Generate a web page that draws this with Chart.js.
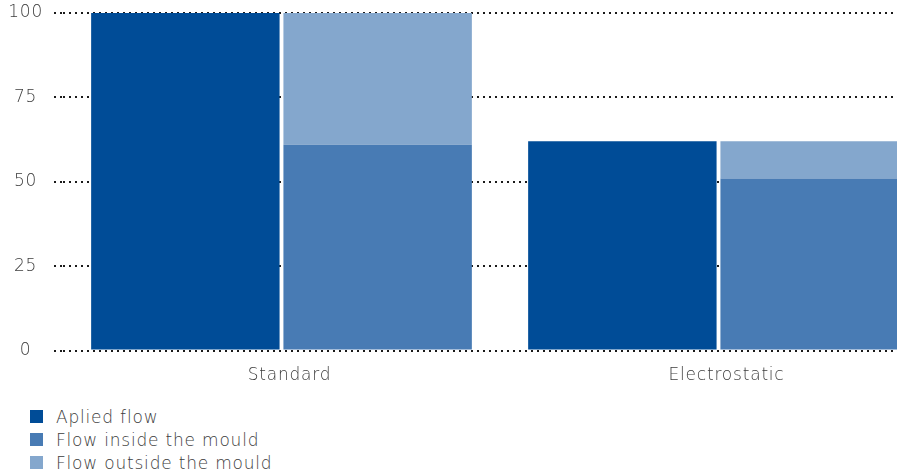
<!DOCTYPE html>
<html>
<head>
<meta charset="utf-8">
<script src="https://cdn.jsdelivr.net/npm/chart.js@4/dist/chart.umd.min.js"></script>
<style>
    body { margin: 0; background: #fff; font-family: "DejaVu Sans", sans-serif; }
    #wrap { position: relative; width: 897px; height: 473px; overflow: hidden; }
    #grafico { position: absolute; left: 0; top: 0; }
    #legenda { position: absolute; left: 30px; top: 405px; margin: 0; padding: 0; list-style: none;
               font-size: 17px; font-weight: 300; letter-spacing: 0.8px; color: #3c3c3c; }
    #legenda li { height: 23px; display: flex; align-items: center; white-space: nowrap; }
    #legenda .caixa { display: inline-block; width: 13px; height: 13px; margin-right: 13px; }
</style>
</head>
<body>
<div id="wrap">
    <canvas id="grafico" width="937" height="404"></canvas>
    <ul id="legenda"></ul>
</div>
<script>
// dados do grafico
var categorias = ['Standard', 'Electrostatic'];
var fluxoAplicado = [100, 62];
var fluxoDentro = [61, 51];
var fluxoFora = [39, 11];
var ticksY = [0, 25, 50, 75, 100];

var nomes = ['Aplied flow', 'Flow inside the mould', 'Flow outside the mould'];
var cores = ['#004c97', '#487bb4', '#84a7cd'];

var corTexto = '#3c3c3c';
var fonte = { family: '"DejaVu Sans", sans-serif', size: 17, weight: 300 };

// espacamento entre letras no canvas
var espacamento = {
    id: 'espacamento',
    beforeLayout: function(chart) { chart.ctx.letterSpacing = '0.8px'; },
    beforeDraw: function(chart) { chart.ctx.letterSpacing = '0.8px'; }
};

var ctx = document.getElementById('grafico').getContext('2d');
var grafico = new Chart(ctx, {
    type: 'bar',
    data: {
        labels: categorias,
        datasets: [
            { label: nomes[0], data: fluxoAplicado, backgroundColor: cores[0], stack: 'aplicado' },
            { label: nomes[1], data: fluxoDentro, backgroundColor: cores[1], stack: 'molde' },
            { label: nomes[2], data: fluxoFora, backgroundColor: cores[2], stack: 'molde' }
        ]
    },
    plugins: [espacamento],
    options: {
        responsive: false,
        animation: false,
        layout: { padding: { left: 0, top: 13, right: 0, bottom: 3 } },
        datasets: {
            bar: { categoryPercentage: 0.88, barPercentage: 0.98, borderWidth: 0 }
        },
        plugins: {
            legend: { display: false },
            tooltip: { enabled: false }
        },
        scales: {
            x: {
                stacked: true,
                grid: { display: false, drawTicks: false },
                border: { display: false },
                ticks: { padding: 15, labelOffset: 8, color: corTexto, font: fonte },
                afterFit: function(eixo) {
                    eixo.paddingLeft = 0;
                    eixo.paddingRight = 0;
                }
            },
            y: {
                stacked: true,
                min: 0,
                max: 100,
                afterBuildTicks: function(eixo) {
                    eixo.ticks = ticksY.map(function(v) { return { value: v }; });
                },
                afterFit: function(eixo) {
                    eixo.width = 63;
                    eixo.paddingTop = 0;
                    eixo.paddingBottom = 0;
                },
                grid: { color: '#1a1a1a', lineWidth: 2, tickLength: 9, tickBorderDash: [2, 4] },
                border: { display: false, dash: [2, 4] },
                ticks: { padding: 11, crossAlign: 'center', color: corTexto, font: fonte }
            }
        }
    }
});

// legenda em html (uma linha por serie)
var ul = document.getElementById('legenda');
grafico.data.datasets.forEach(function(ds) {
    var li = document.createElement('li');
    var caixa = document.createElement('span');
    caixa.className = 'caixa';
    caixa.style.background = ds.backgroundColor;
    li.appendChild(caixa);
    li.appendChild(document.createTextNode(ds.label));
    ul.appendChild(li);
});
</script>
</body>
</html>
